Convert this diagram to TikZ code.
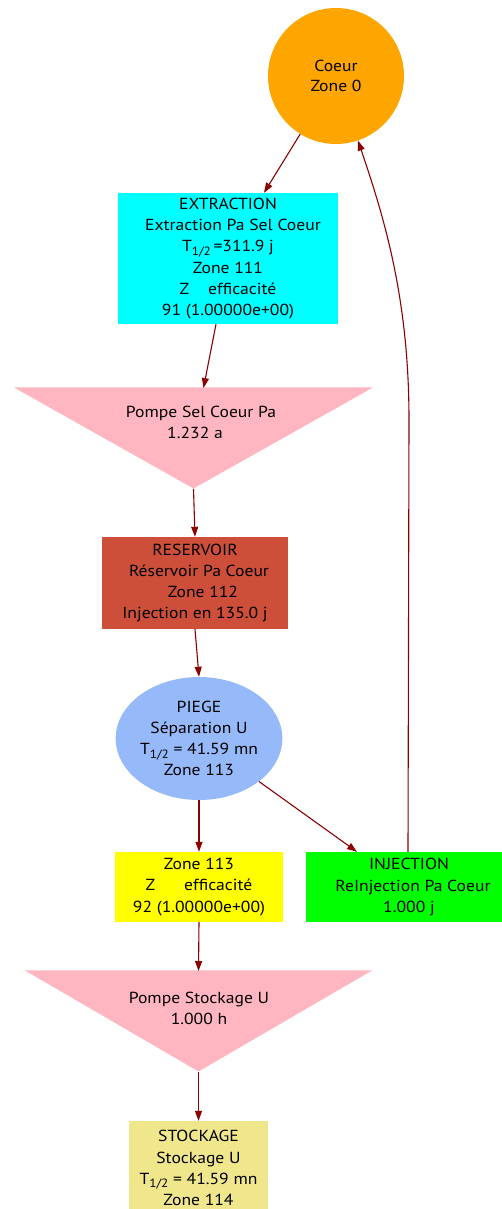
\documentclass[tikz,border=0pt]{standalone}
\usepackage{fontspec}
\setmainfont{PT Sans}[FakeStretch=1.1]
\usetikzlibrary{shapes.geometric,arrows.meta,calc}
\definecolor{arrc}{HTML}{8B0000}
\definecolor{orangec}{HTML}{FFA500}
\definecolor{cyanc}{HTML}{00FFFF}
\definecolor{pinkc}{HTML}{FFB6C1}
\definecolor{resc}{HTML}{CD4F39}
\definecolor{piegec}{HTML}{96B9FA}
\definecolor{yellowc}{HTML}{FFFF00}
\definecolor{greenc}{HTML}{00FF00}
\definecolor{khakic}{HTML}{F0E68C}
\newcommand{\thalf}{T\raisebox{-0.45ex}{\fontsize{12}{12}\selectfont 1/2}}
\tikzset{
  lbl/.style={align=center, font=\fontsize{16}{21.2}\selectfont, inner sep=0pt},
  box/.style={rectangle, lbl},
  pump/.style={isosceles triangle, shape border rotate=270, isosceles triangle stretches, inner sep=0pt, fill=pinkc, draw=none},
  conn/.style={draw=arrc, line width=1.1pt, -{Triangle[length=10pt,width=7pt]}},
}
\begin{document}
\begin{tikzpicture}[x=1pt,y=-1pt]
\useasboundingbox (0,0) rectangle (501,1209);
% nodes
\node[circle, fill=orangec, minimum size=136pt, lbl, font=\fontsize{16}{20}\selectfont] (coeur) at (336,76) {Coeur\hspace{8pt}\\Zone 0};
\node[box, fill=cyanc, minimum width=220pt, minimum height=131pt] (extr) at (228,258.5)
  {EXTRACTION\\\hspace{10pt}Extraction Pa Sel Coeur\\\thalf\,=311.9 j\\Zone 111\\Z\hspace{19pt}efficacité\hspace{20pt}\\91 (1.00000e+00)};
\node[pump, minimum width=359pt, minimum height=101pt, anchor=apex] (pump1) at (193.5,489) {};
\node[lbl] (pump1t) at (195,422) {\hspace{12pt}Pompe Sel Coeur Pa\\1.232 a};
\node[box, fill=resc, minimum width=186pt, minimum height=92pt] (resv) at (195,583)
  {RESERVOIR\\\hspace{8pt}Réservoir Pa Coeur\\\hspace{16pt}Zone 112\\Injection en 135.0 j};
\node[ellipse, fill=piegec, minimum width=166pt, minimum height=123pt, lbl] (piege) at (199,738.5)
  {PIEGE\\Séparation U\\\thalf\ = 41.59 mn\\Zone 113};
\node[box, fill=yellowc, minimum width=168pt, minimum height=70pt] (z113) at (199,887)
  {Zone 113\\Z\hspace{29pt}efficacité\\92 (1.00000e+00)};
\node[box, fill=greenc, minimum width=206pt, minimum height=70pt] (inj) at (409,887)
  {INJECTION\\\hspace{8pt}ReInjection Pa Coeur\\1.000 j};
\node[pump, minimum width=347pt, minimum height=101pt, anchor=apex] (pump2) at (198.5,1072) {};
\node[lbl] (pump2t) at (199,1008) {Pompe Stockage U\\1.000 h};
\node[box, fill=khakic, minimum width=139pt, minimum height=94pt] (stock) at (198.5,1168)
  {STOCKAGE\\Stockage U\\\thalf\ = 41.59 mn\\Zone 114};
% connectors
\draw[conn] (coeur) -- ($(extr.north)+(36,0)$);
\draw[conn] ($(extr.south)+(-12,0)$) -- ($(pump1.apex)+(10,-101)$);
\draw[conn] (pump1.apex) -- (resv.north);
\draw[conn] (resv.south) -- (piege.north);
\draw[conn] (piege.south) -- (z113.north);
\draw[conn] (piege) -- ($(inj.north)+(-52,0)$);
\draw[conn] (z113.south) -- ($(pump2.apex)+(0,-101)$);
\draw[conn] (pump2.apex) -- (stock.north);
\draw[conn] ($(inj.north)+(-1,0)$) -- (409,420) .. controls (409,300) and (385,220) .. (coeur);
\end{tikzpicture}
\end{document}
